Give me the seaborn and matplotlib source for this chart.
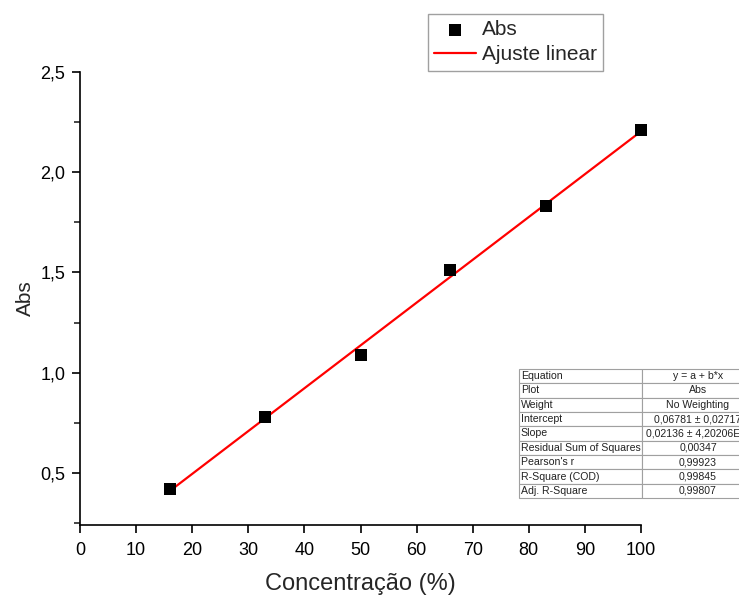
import numpy as np
import pandas as pd
import matplotlib
matplotlib.use("Agg")
import matplotlib.pyplot as plt
from matplotlib.ticker import MultipleLocator, FuncFormatter
import seaborn as sns

# Calibration data
concentracao = [16, 33, 50, 66, 83, 100]
absorbancia = [0.42, 0.78, 1.09, 1.51, 1.83, 2.21]

# Fit report rows
report_labels = ["Equation", "Plot", "Weight", "Intercept", "Slope",
                 "Residual Sum of Squares", "Pearson's r", "R-Square (COD)",
                 "Adj. R-Square"]
report_values = ["y = a + b*x", "Abs", "No Weighting", "0,06781 \u00b1 0,02717",
                 "0,02136 \u00b1 4,20206E-4", "0,00347", "0,99923", "0,99845",
                 "0,99807"]

sns.set_theme(style="ticks")
plt.rcParams["font.family"] = ["Liberation Sans", "DejaVu Sans"]

df = pd.DataFrame({"x": concentracao, "y": absorbancia})
slope, intercept = np.polyfit(df["x"], df["y"], 1)
fit = pd.DataFrame({"x": [min(concentracao), max(concentracao)]})
fit["y"] = intercept + slope * fit["x"]

fig = plt.figure(figsize=(7.39, 5.95), dpi=100)
ax = fig.add_axes([80 / 739, 1 - 525 / 595, 561 / 739, 453 / 595])

sns.lineplot(data=fit, x="x", y="y", ax=ax, color="#ff0000", lw=1.6,
             label="Ajuste linear", zorder=2)
sns.scatterplot(data=df, x="x", y="y", ax=ax, marker="s", s=80, color="black",
                edgecolor="black", linewidth=0, label="Abs", zorder=3,
                clip_on=False)

ax.set_xlim(0, 100)
ax.set_ylim(0.24, 2.5)
ax.xaxis.set_major_locator(MultipleLocator(10))
ax.yaxis.set_major_locator(MultipleLocator(0.5))
ax.yaxis.set_minor_locator(MultipleLocator(0.25))
ax.yaxis.set_major_formatter(FuncFormatter(lambda v, p: f"{v:.1f}".replace(".", ",")))

for side in ("top", "right"):
    ax.spines[side].set_visible(False)
for side in ("left", "bottom"):
    ax.spines[side].set_linewidth(1.2)
    ax.spines[side].set_color("black")
ax.tick_params(axis="both", which="major", direction="out", length=6, width=1.2,
               labelsize=13, colors="black")
ax.tick_params(axis="x", which="major", pad=6)
ax.tick_params(axis="y", which="major", pad=4.5)
ax.tick_params(axis="y", which="minor", direction="out", length=4.5, width=1.2)

ax.set_xlabel("Concentração (%)", fontsize=17, labelpad=10)
ax.set_ylabel("Abs", fontsize=15, labelpad=4)

ax.get_legend().remove()
handles, labels = ax.get_legend_handles_labels()
order = [labels.index("Abs"), labels.index("Ajuste linear")]
leg = fig.legend([handles[i] for i in order], [labels[i] for i in order],
                 loc="upper left", bbox_to_anchor=(428 / 739, 1 - 14 / 595),
                 fontsize=15, frameon=True, fancybox=False, borderpad=0.3,
                 handlelength=2.0, handletextpad=0.3, labelspacing=0.3,
                 borderaxespad=0)
leg.get_frame().set_edgecolor("#888888")
leg.get_frame().set_linewidth(1.0)

# Fit report table
tax = fig.add_axes([519 / 739, 1 - 498 / 595, 235 / 739, 129 / 595])
tax.axis("off")
tbl = tax.table(cellText=[[a, b] for a, b in zip(report_labels, report_values)],
                colWidths=[123 / 235, 112 / 235], bbox=[0, 0, 1, 1],
                cellLoc="center")
tbl.auto_set_font_size(False)
tbl.set_fontsize(7.6)
for (r, c), cell in tbl.get_celld().items():
    cell.set_edgecolor("#a0a0a0")
    cell.set_linewidth(0.8)
    cell.get_text().set_color("#222222")
    if c == 0:
        cell.PAD = 0.015
        cell.get_text().set_horizontalalignment("left")

fig.savefig("out.png", dpi=100)
